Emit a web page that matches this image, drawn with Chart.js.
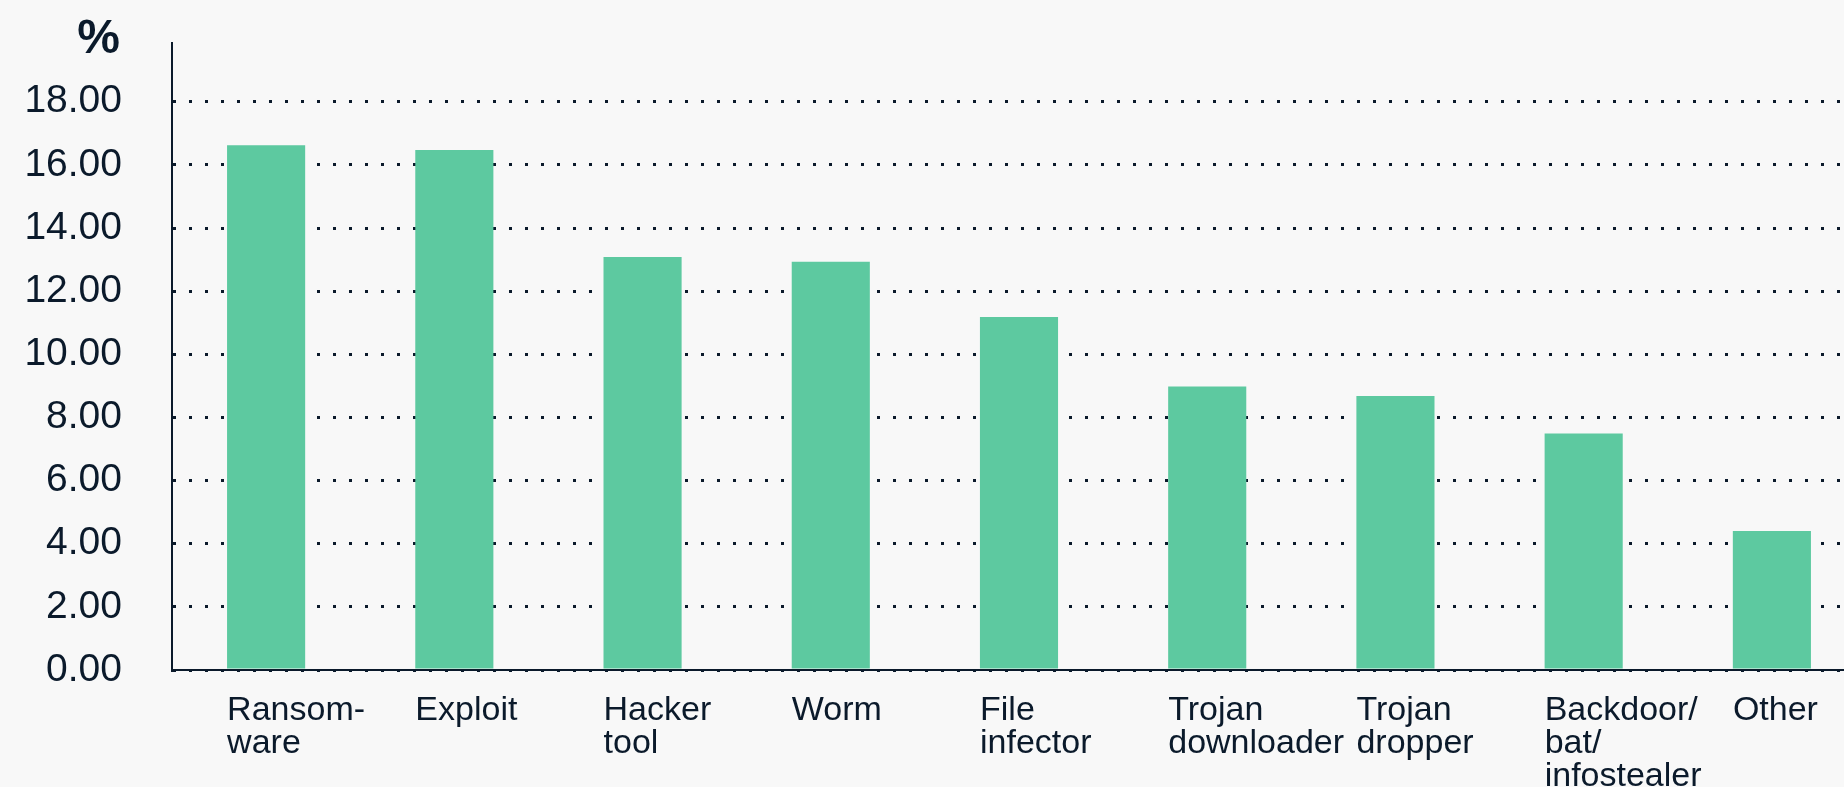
<!DOCTYPE html>
<html lang="en">
<head>
<meta charset="UTF-8">
<title>Malware types</title>
<style>
  html, body { margin:0; padding:0; background:#f8f8f8; overflow:hidden; }
  .wrap { position:relative; width:1870px; height:787px; }
</style>
</head>
<body>
<div class="wrap"><canvas id="chart"></canvas></div>

<script src="https://cdn.jsdelivr.net/npm/chart.js"></script>
<script>
// data
const categories = [
  ["Ransom-", "ware"],
  ["Exploit"],
  ["Hacker", "tool"],
  ["Worm"],
  ["File", "infector"],
  ["Trojan", "downloader"],
  ["Trojan", "dropper"],
  ["Backdoor/", "bat/", "infostealer"],
  ["Other"]
];
const shares = [16.62, 16.47, 13.08, 12.93, 11.18, 8.98, 8.68, 7.49, 4.40];
const yMin = 0, yMax = 19.86, yStep = 2;
const unitLabel = "%";

const ink = '#0b1a2b';
const font = "'Liberation Sans', Arial, sans-serif";

// "%" above the value labels
const unitPlugin = {
  id: 'unit',
  afterDraw(chart) {
    const c = chart.ctx, y = chart.scales.y;
    c.save();
    c.font = 'bold 48px ' + font;
    c.fillStyle = ink;
    c.textAlign = 'right';
    c.textBaseline = 'alphabetic';
    c.fillText(unitLabel, y.right - 52, 53);
    c.restore();
  }
};

new Chart(document.getElementById('chart'), {
  type: 'bar',
  data: {
    labels: categories,
    datasets: [{
      data: shares,
      backgroundColor: '#5dc9a0',
      borderWidth: 0,
      categoryPercentage: 0.415,
      barPercentage: 1
    }]
  },
  options: {
    responsive: true,
    maintainAspectRatio: false,
    animation: false,
    layout: { padding: { top: 43, right: 4, left: 0, bottom: 0 } },
    plugins: { legend: { display: false }, tooltip: { enabled: false } },
    scales: {
      x: {
        grid: { display: false },
        border: { display: true, color: ink, width: 2 },
        ticks: {
          color: ink,
          font: { family: font, size: 34, lineHeight: 0.97 },
          align: 'start',
          labelOffset: -39,
          padding: 16,
          autoSkip: false,
          maxRotation: 0
        },
        afterFit: s => { s.height = 117; s.paddingLeft = 0; s.paddingRight = 0; }
      },
      y: {
        min: yMin,
        max: yMax,
        grid: { color: ink, lineWidth: 3, drawTicks: false },
        border: { display: true, color: ink, width: 2, dash: [3, 13] },
        ticks: {
          stepSize: yStep,
          includeBounds: false,
          color: ink,
          font: { family: font, size: 39 },
          padding: 50,
          callback: v => v.toFixed(2)
        },
        afterFit: s => { s.width = 172; s.paddingTop = 0; s.paddingBottom = 0; }
      }
    }
  },
  plugins: [unitPlugin]
});
</script>
</body>
</html>
